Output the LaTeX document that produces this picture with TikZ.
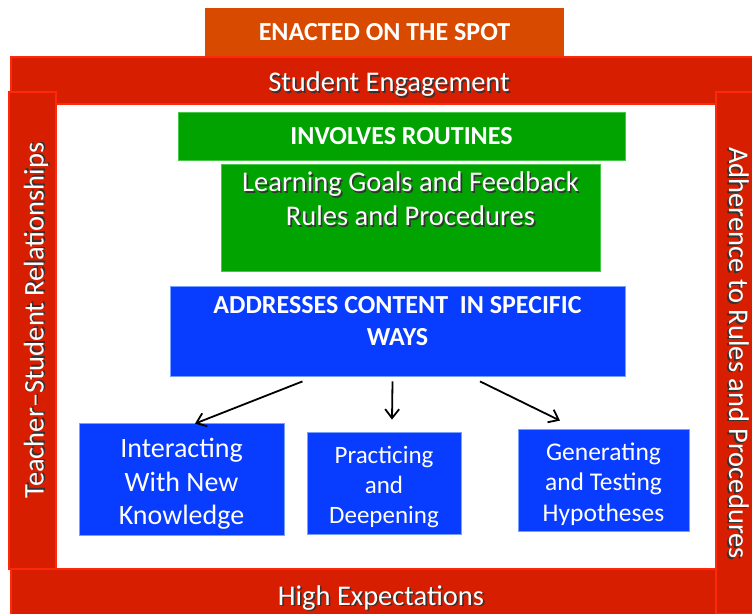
\documentclass[tikz,border=0pt]{standalone}
\usepackage{fontspec}
\setmainfont{Carlito}
\usetikzlibrary{arrows.meta, positioning}
\definecolor{barred}{RGB}{216,30,0}
\definecolor{barline}{RGB}{255,40,10}
\definecolor{spotorange}{RGB}{216,74,0}
\definecolor{routgreen}{RGB}{0,163,0}
\definecolor{routline}{RGB}{70,200,70}
\definecolor{waysblue}{RGB}{8,60,255}
\definecolor{waysline}{RGB}{120,160,255}
\newcommand{\shtxt}[1]{\makebox[0pt][l]{\hspace{1.6pt}\raisebox{-1.6pt}{\color{black!80}#1}}#1}
\newcommand{\fsz}[1]{\fontsize{#1}{1.2\dimexpr#1pt\relax}\selectfont}

\begin{document}
\begin{tikzpicture}[x=1pt, y=-1pt,
    bar/.style={rectangle, fill=barred, draw=barline, line width=1.5pt, text=white, font=\fsz{28.5}, inner sep=0pt, text height=22pt, text depth=0pt},
    greenbox/.style={rectangle, fill=routgreen, draw=routline, line width=0.8pt, text=white, align=center, inner sep=0pt},
    bluebox/.style={rectangle, fill=waysblue, draw=waysline, line width=0.8pt, inner sep=0pt},
    boxtext/.style={text=white, align=center, inner sep=0pt},
    link/.style={-{Straight Barb[length=9pt,width=14pt]}, line width=1.8pt}]
    \useasboundingbox (0,0) rectangle (752,613);
    \fill[white] (0,0) rectangle (752,613);

    % outer frame
    \node[rectangle, fill=spotorange, minimum width=359pt, minimum height=48pt, text=white, font=\bfseries\fsz{26}] (spot) at (384.5,32) {ENACTED ON THE SPOT};
    \node[bar, minimum width=756pt, minimum height=47pt] (engage) at (389,80.5) {\shtxt{Student Engagement}};
    \node[bar, minimum width=740pt, minimum height=54pt, text height=19pt, text depth=1pt] (expect) at (381,596) {\shtxt{High Expectations}};
    \node[bar, rotate=90, minimum width=477pt, minimum height=47pt] (relate) at (32.5,330.5) {\hspace*{20pt}\shtxt{Teacher--Student Relationships}};
    \node[bar, rotate=-90, minimum width=522pt, minimum height=40pt, text height=18pt, text depth=4pt] (rules) at (736,353) {\shtxt{Adherence to Rules and Procedures}};

    % routines
    \node[greenbox, minimum width=447pt, minimum height=48pt, font=\bfseries\fsz{26}] (routines) at (401.5,136) {INVOLVES ROUTINES};
    \node[greenbox, minimum width=379pt, minimum height=107pt] (goals) at (410.5,217.5) {};
    \node[boxtext, font=\fsz{28.5}, below=8pt of goals.north] (goaltext)
        {\shtxt{Learning Goals and Feedback}\\\shtxt{Rules and Procedures}};

    % content
    \node[bluebox, minimum width=455pt, minimum height=90pt] (content) at (397.5,331) {};
    \node[boxtext, font=\bfseries\fsz{26}, below=11pt of content.north] (contenttext)
        {ADDRESSES CONTENT\ \ IN SPECIFIC\\WAYS};
    \node[bluebox, minimum width=205pt, minimum height=112pt] (interact) at (181.5,479) {};
    \node[boxtext, font=\fsz{28}, yshift=-5pt] (interacttext) at (interact) {Interacting\\With New\\Knowledge};
    \node[bluebox, minimum width=154pt, minimum height=102pt] (practice) at (384,483) {};
    \node[boxtext, font=\fsz{25}, yshift=-4pt] (practicetext) at (practice) {Practicing\\and\\Deepening};
    \node[bluebox, minimum width=171pt, minimum height=102pt] (generate) at (603.5,480) {};
    \node[boxtext, font=\fsz{25.5}, yshift=-4pt] (generatetext) at (generate) {Generating\\and Testing\\Hypotheses};

    \draw[link] ([xshift=-95pt,yshift=-5pt]content.south) -- ([xshift=13.5pt,yshift=-1pt]interact.north);
    \draw[link] ([xshift=-5pt,yshift=-5pt]content.south) -- ([xshift=8pt,yshift=12pt]practice.north);
    \draw[link] ([xshift=82.5pt,yshift=-5pt]content.south) -- ([xshift=-43.5pt,yshift=8pt]generate.north);
\end{tikzpicture}
\end{document}
